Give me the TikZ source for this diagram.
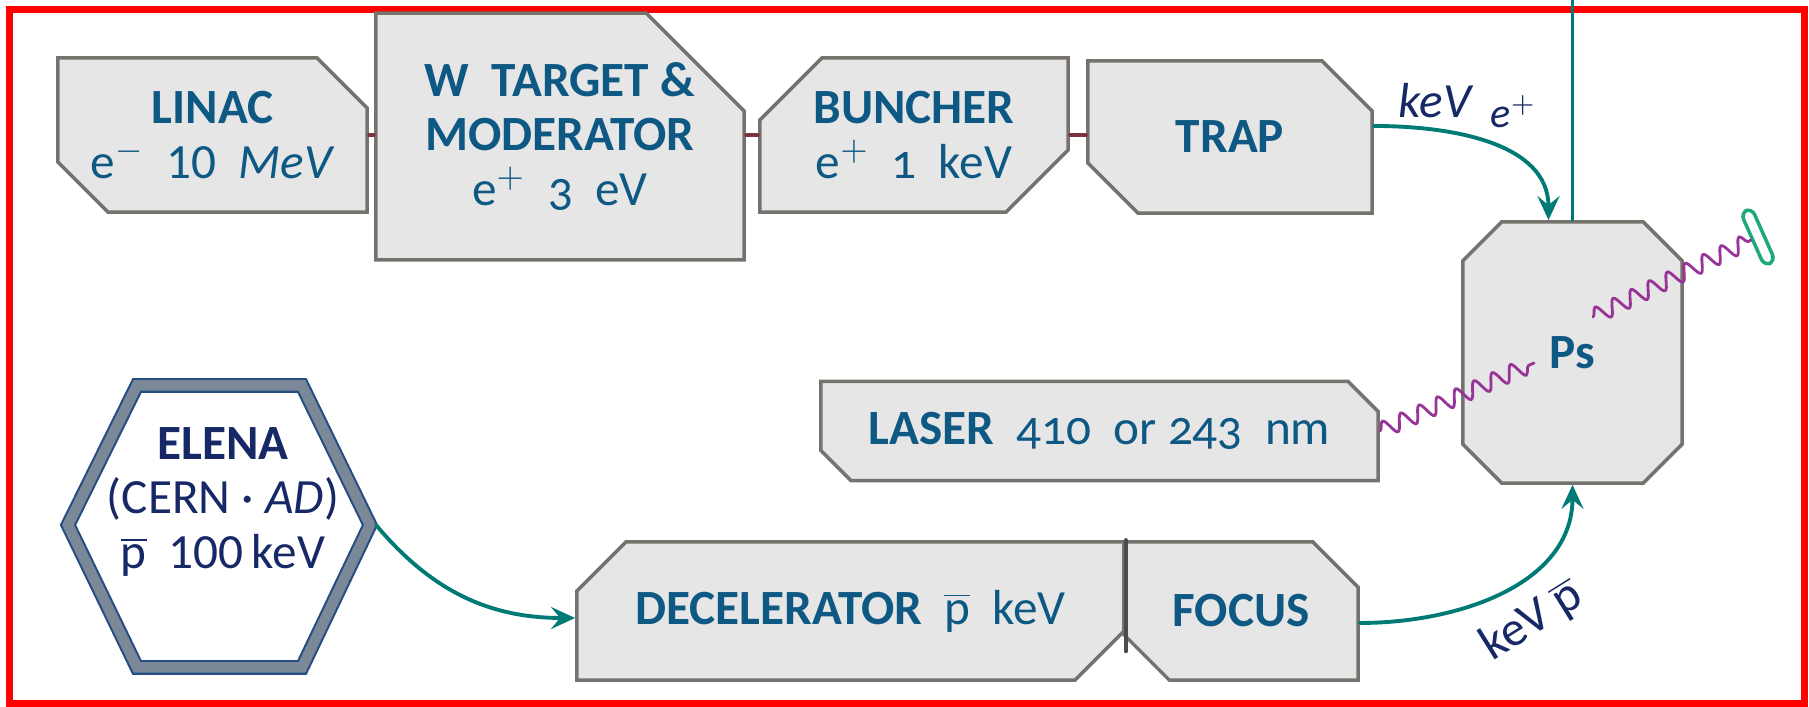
\documentclass[tikz,border=0pt]{standalone}
\usepackage{fontspec}
\setmainfont{Carlito}
\usepackage{tikz}
\usetikzlibrary{arrows.meta,shapes.misc,decorations.pathmorphing,calc}
\usepackage{xcolor}
\definecolor{boxfill}{RGB}{230,230,230}
\definecolor{boxedge}{RGB}{118,114,110}
\definecolor{boxtext}{RGB}{14,88,132}
\definecolor{navytext}{RGB}{22,40,102}
\definecolor{beamteal}{RGB}{0,122,116}
\definecolor{linkred}{RGB}{122,52,62}
\definecolor{photon}{RGB}{152,52,152}
\definecolor{hexedge}{RGB}{38,78,130}
\definecolor{hexmid}{RGB}{122,136,152}
\definecolor{detgreen}{RGB}{30,170,120}
\newcommand{\osf}{\addfontfeatures{Numbers=OldStyle}}
\newcommand{\pbar}{$\overline{\mbox{p}}$}

\begin{document}
\begin{tikzpicture}[x=0.01cm,y=0.01cm,>={Stealth[length=2.4mm,width=2.2mm,inset=0.9mm]},line cap=round,
  font=\fontsize{14}{15.6}\selectfont,
  stage/.style={chamfered rectangle,chamfered rectangle xsep=#1,chamfered rectangle ysep=#1,
    chamfered rectangle corners={north east,south west},fill=boxfill,draw=boxedge,line width=1pt,
    text=boxtext,align=center,inner sep=0pt},
  link/.style={linkred,line width=0.9pt},
  beam/.style={beamteal,line width=1.1pt,->},
  wave/.style={photon,line width=0.8pt,decorate,decoration={snake,segment length=0.2cm,amplitude=0.08cm}},
  tag/.style={text=navytext,inner sep=0pt}]
\useasboundingbox (0,0) rectangle (1809,707);
\draw[red,line width=0.07cm] (9.5,3.5) rectangle (1804.5,697);

\node[stage=0.25cm,minimum width=3.09cm,minimum height=1.54cm] (linac) at (212.5,572)
  {\textbf{LINAC}\\e$^{-}$\ \ 10\ \ \textit{MeV}};
\node[stage=0.49cm,chamfered rectangle corners=north east,minimum width=3.44cm,minimum height=1.97cm] (wtarget) at (560,570.5)
  {\textbf{W\ \ TARGET \&}\\\textbf{MODERATOR}\\e$^{+}$\ \ {\osf 3}\ \ eV};
\node[stage=0.31cm,chamfered rectangle corners={north west,south east},minimum width=3.08cm,minimum height=1.54cm] (buncher) at (914,572)
  {\textbf{BUNCHER}\\e$^{+}$\ \ {\osf 1}\ \ keV};
\node[stage=0.34cm,minimum width=2.84cm,minimum height=1.52cm] (trap) at (1230,570) {\textbf{TRAP}};
\node[stage=0.34cm,chamfered rectangle corners={north east,north west,south east,south west},minimum width=2.19cm,minimum height=2.61cm] (ps) at (1572.5,354.5) {\textbf{Ps}};
\node[stage=0.15cm,minimum width=5.57cm,minimum height=0.99cm] (laser) at (1099.5,276)
  {\textbf{LASER}\ \ {\osf 410}\ \ or\ {\osf 243}\ \ nm};
\node[stage=0.28cm,chamfered rectangle corners={north west,south east},minimum width=5.47cm,minimum height=1.38cm] (decel) at (850.5,96)
  {\textbf{DECELERATOR}\ \ \pbar\ \ keV};
\node[stage=0.29cm,minimum width=2.34cm,minimum height=1.38cm] (focus) at (1241,96) {\textbf{FOCUS}};
\draw[black!70,line width=1.2pt] (decel.north east) -- ++(0,-111);

\draw[hexedge,line width=0.6pt,double=hexmid,double distance=0.105cm,fill=white]
  (137,321.5) -- (302,321.5) -- (370,182) -- (302,39.5) -- (137,39.5) -- (68,182) -- cycle;
\coordinate (elenatip) at (376,182);
\node[text=navytext,align=center] (elena) at (223,205)
  {\textbf{ELENA}\\(CERN · \textit{AD})\\\pbar\ \ 100\,keV};

\draw[link] (linac.east) -- (linac.east -| wtarget.west);
\draw[link] (buncher.west -| wtarget.east) -- (buncher.west);
\draw[link] (buncher.east) -- (buncher.east -| trap.west);

\coordinate (topin) at (1572.5,707);
\draw[beamteal,line width=0.8pt] (topin) -- (ps.north);
\draw[beam] ($(trap.east)+(0,11)$) to[out=0,in=90] ($(ps.north)+(-24,0)$);
\draw[beam] ($(focus.east)+(0,-12)$) to[out=0,in=-90] (ps.south);
\draw[beam] (elenatip) to[out=-50,in=180] ($(decel.west)+(0,-7)$);
\node[tag,anchor=base west] (keve) at (1398,589)
  {\textit{keV}\hspace{5pt}\raisebox{-2.8pt}{\fontsize{12}{12}\selectfont\textit{e}$^{+}$}};
\node[tag,rotate=32] (kevp) at (1532,86) {keV\hspace{3pt}\pbar};

\node[draw=detgreen,line width=1pt,fill=white,rounded corners=2pt,minimum width=0.12cm,minimum height=0.58cm,inner sep=0pt,rotate=24] (det) at (1758,470) {};
\coordinate (pshit) at (1534,344);
\coordinate (psout) at (1593,390);
\draw[wave] (laser.east) -- (pshit);
\draw[wave] (psout) -- (det.west);
\end{tikzpicture}
\end{document}
